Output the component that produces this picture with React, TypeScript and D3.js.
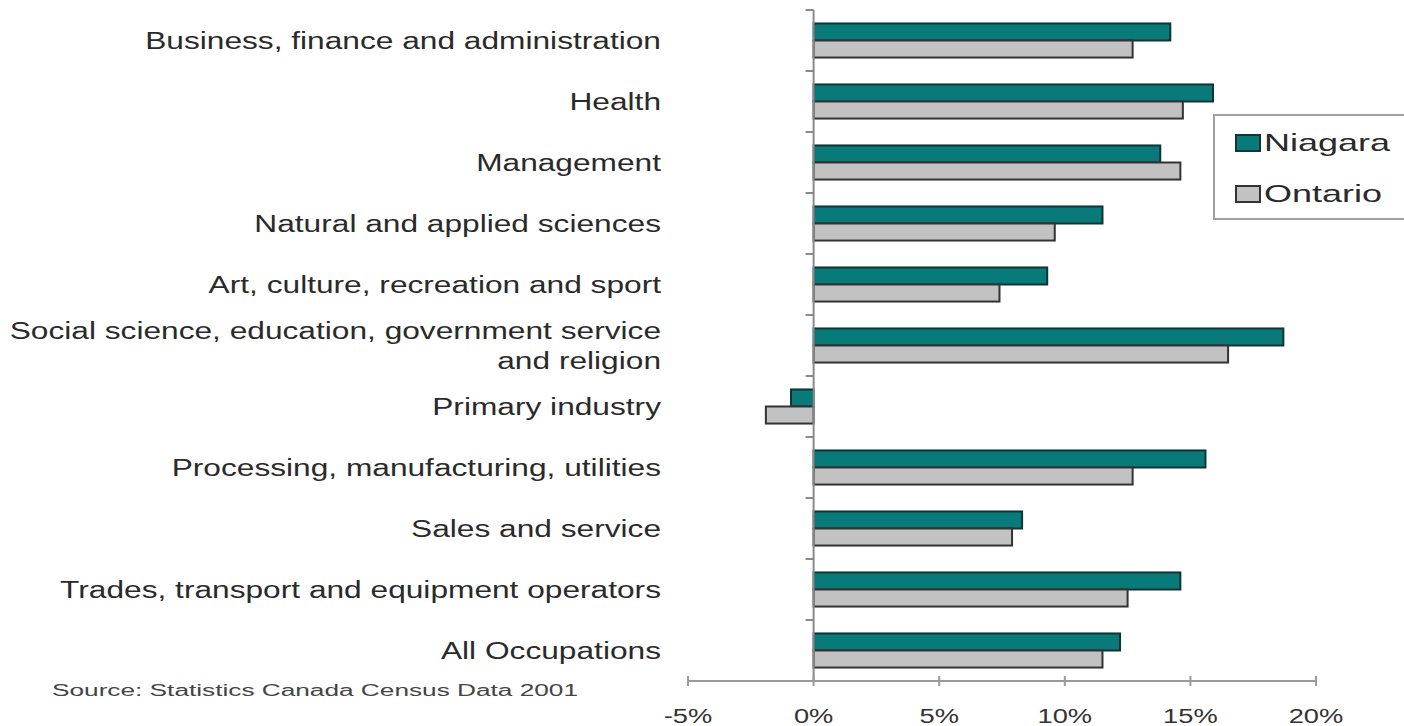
import React from "react";
import * as d3 from "d3";

const categories: string[][] = [
  ["Business, finance and administration"],
  ["Health"],
  ["Management"],
  ["Natural and applied sciences"],
  ["Art, culture, recreation and sport"],
  ["Social science, education, government service", "and religion"],
  ["Primary industry"],
  ["Processing, manufacturing, utilities"],
  ["Sales and service"],
  ["Trades, transport and equipment operators"],
  ["All Occupations"],
];
const niagara = [14.2, 15.9, 13.8, 11.5, 9.3, 18.7, -0.9, 15.6, 8.3, 14.6, 12.2];
const ontario = [12.7, 14.7, 14.6, 9.6, 7.4, 16.5, -1.9, 12.7, 7.9, 12.5, 11.5];
const seriesNames = ["Niagara", "Ontario"];
const xTicks = [-5, 0, 5, 10, 15, 20];
const sourceNote = "Source: Statistics Canada Census Data 2001";

const W = 1404;
const H = 726;
const FONT = "'Liberation Sans', Arial, sans-serif";
const fills = ["#087A7A", "#C2C2C2"];
const strokes = ["#123434", "#333333"];

export default function App() {
  const keys = categories.map((c) => c.join(" "));
  const x = d3.scaleLinear().domain([-5, 20]).range([688, 1316]);
  const y = d3.scaleBand<string>().domain(keys).range([10, 681]).padding(0);
  const inner = d3
    .scaleBand<string>()
    .domain(seriesNames)
    .range([0, y.bandwidth()])
    .paddingInner(0)
    .paddingOuter(0.79);
  const values = [niagara, ontario];
  const sx = 1.32;

  return (
    <svg
      width={W}
      height={H}
      style={{ position: "absolute", left: 0, top: 0, background: "#fff" }}
      fontFamily={FONT}
    >
      {/* bars */}
      {keys.map((k, i) => (
        <g key={k}>
          {seriesNames.map((s, j) => {
            const v = values[j][i];
            const x0 = x(Math.min(0, v));
            const x1 = x(Math.max(0, v));
            return (
              <rect
                key={s}
                x={x0}
                y={(y(k) as number) + (inner(s) as number)}
                width={x1 - x0}
                height={inner.bandwidth()}
                fill={fills[j]}
                stroke={strokes[j]}
                strokeWidth={2}
              />
            );
          })}
        </g>
      ))}
      {/* y axis */}
      <line x1={x(0)} x2={x(0)} y1={10} y2={681} stroke="#8a8a8a" strokeWidth={2} />
      {[...keys.map((k) => y(k) as number), 681].map((t, i) => (
        <line key={i} x1={x(0) - 8} x2={x(0)} y1={t} y2={t} stroke="#8a8a8a" strokeWidth={2} />
      ))}
      {/* x axis */}
      <line x1={x(-5)} x2={x(20)} y1={681} y2={681} stroke="#9a9a9a" strokeWidth={2} />
      {xTicks.map((t) => (
        <g key={t}>
          <line x1={x(t)} x2={x(t)} y1={676} y2={686} stroke="#9a9a9a" strokeWidth={2} />
          <g transform={`translate(${x(t)},723) scale(1.3,1)`}>
            <text textAnchor="middle" fontSize={21} fill="#333">
              {t}%
            </text>
          </g>
        </g>
      ))}
      {/* category labels */}
      {categories.map((lines, i) => {
        const cy = (y(keys[i]) as number) + y.bandwidth() / 2;
        const lh = 30;
        const start = cy - ((lines.length - 1) * lh) / 2;
        return lines.map((ln, li) => (
          <g key={i + "-" + li} transform={`translate(661,${start + li * lh}) scale(${sx},1)`}>
            <text textAnchor="end" dy="0.35em" fontSize={24} fill="#2a2a2a">
              {ln}
            </text>
          </g>
        ));
      })}
      {/* legend */}
      <rect x={1214} y={115} width={200} height={104} fill="#fff" stroke="#a0a0a0" strokeWidth={2} />
      {seriesNames.map((s, j) => {
        const cy = 143 + j * 51;
        return (
          <g key={s}>
            <rect x={1236} y={cy - 8} width={24} height={16} fill={fills[j]} stroke={strokes[j]} strokeWidth={2} />
            <g transform={`translate(1264,${cy}) scale(1.5,1)`}>
              <text dy="0.35em" fontSize={24} fill="#2a2a2a">
                {s}
              </text>
            </g>
          </g>
        );
      })}
      {/* source */}
      <text
        x={52}
        y={696}
        fontSize={16}
        textLength={526}
        lengthAdjust="spacingAndGlyphs"
        fill="#444"
      >
        {sourceNote}
      </text>
    </svg>
  );
}
